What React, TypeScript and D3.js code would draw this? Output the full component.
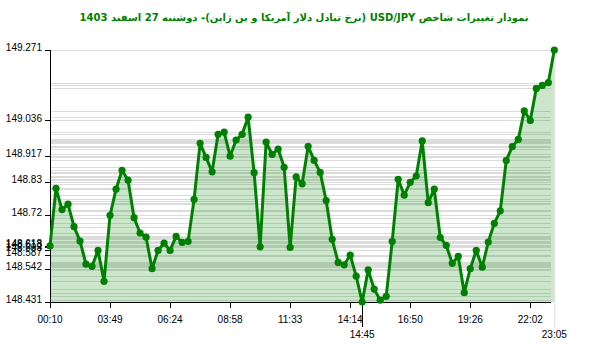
import React from "react";
import * as d3 from "d3";

const values: number[] = [
  148.618, 148.81, 148.739, 148.757, 148.682, 148.634, 148.557, 148.55, 148.603, 148.5,
  148.72, 148.807, 148.87, 148.837, 148.712, 148.661, 148.647, 148.542, 148.603, 148.627,
  148.603, 148.65, 148.63, 148.633, 148.773, 148.96, 148.913, 148.865, 148.99, 148.997,
  148.917, 148.971, 148.99, 149.047, 148.862, 148.615, 148.964, 148.923, 148.941, 148.88,
  148.613, 148.848, 148.825, 148.95, 148.903, 148.863, 148.769, 148.64, 148.563, 148.555,
  148.587, 148.517, 148.431, 148.538, 148.474, 148.437, 148.45, 148.633, 148.84, 148.787,
  148.83, 148.851, 148.968, 148.762, 148.807, 148.646, 148.62, 148.56, 148.583, 148.462,
  148.542, 148.603, 148.547, 148.631, 148.693, 148.735, 148.903, 148.949, 148.973, 149.068,
  149.036, 149.143, 149.153, 149.162, 149.271,
];

const tickIndices: number[] = [0, 10, 20, 30, 40, 50, 60, 70, 80];
const tickLabels: string[] = ["00:10", "03:49", "06:24", "08:58", "11:33", "14:14", "16:50", "19:26", "22:02"];
const extraTickIndices: number[] = [52, 84];
const extraTickLabels: string[] = ["14:45", "23:05"];

const title = "نمودار تغییرات شاخص USD/JPY (نرخ تبادل دلار آمریکا و ین ژاپن)-  دوشنبه  27 اسفند 1403";

const fmt = (v: number) => String(parseFloat(v.toFixed(3)));

export default function App() {
  const W = 600, H = 352;
  const left = 50, right = 554.3, top = 50, bottom = 302, axisEnd = 551;
  const minV = d3.min(values)!;
  const maxV = d3.max(values)!;
  const x = d3.scaleLinear().domain([0, values.length - 1]).range([left, right]);
  const y = d3.scaleLinear().domain([minV, maxV]).range([bottom, top]);

  const line = d3.line<number>().x((_, i) => x(i)).y((d) => y(d));
  const area = d3.area<number>().x((_, i) => x(i)).y0(bottom).y1((d) => y(d));

  const yTickVals = [...tickIndices.map((i) => values[i]), minV, maxV];
  const font = "'Liberation Sans', Arial, sans-serif";
  const last = values.length - 1;

  return (
    <svg width={W} height={H} style={{ position: "absolute", left: 0, top: 0, background: "#fff" }}>
      <text x={304} y={20.5} textAnchor="middle" direction="rtl" fill="#008000"
        fontFamily="'DejaVu Sans', sans-serif" fontWeight="bold" fontSize={10}>
        {title}
      </text>
      {values.map((v, i) => (
        <line key={"g" + i} x1={left} x2={axisEnd} y1={Math.round(y(v)) + 0.5} y2={Math.round(y(v)) + 0.5}
          stroke="#dcdcdc" strokeWidth={1} />
      ))}
      <path d={area(values) || ""} fill="rgba(0,128,0,0.2)" />
      <line x1={x(last) + 0.5} x2={x(last) + 0.5} y1={y(values[last])} y2={328} stroke="#dddddd" />
      <line x1={left} x2={axisEnd} y1={bottom + 0.5} y2={bottom + 0.5} stroke="#000" />
      <line x1={left + 0.5} x2={left + 0.5} y1={top} y2={bottom} stroke="#000" />
      {yTickVals.map((v, i) => (
        <g key={"y" + i}>
          <line x1={45} x2={left} y1={Math.round(y(v)) + 0.5} y2={Math.round(y(v)) + 0.5} stroke="#000" />
          <text x={42} y={y(v) + 1} textAnchor="end" fontFamily={font} fontSize={10} fill="#000">
            {fmt(v)}
          </text>
        </g>
      ))}
      {tickIndices.map((idx, i) => (
        <g key={"x" + i}>
          <line x1={Math.round(x(idx)) + 0.5} x2={Math.round(x(idx)) + 0.5} y1={bottom} y2={308} stroke="#000" />
          <text x={x(idx)} y={322.5} textAnchor="middle" fontFamily={font} fontSize={10} fill="#000">
            {tickLabels[i]}
          </text>
        </g>
      ))}
      {extraTickIndices.map((idx, i) => (
        <g key={"xe" + i}>
          {i === 0 && (
            <line x1={Math.round(x(idx)) + 0.5} x2={Math.round(x(idx)) + 0.5} y1={bottom} y2={327} stroke="#000" />
          )}
          <text x={x(idx)} y={337.5} textAnchor="middle" fontFamily={font} fontSize={10} fill="#000">
            {extraTickLabels[i]}
          </text>
        </g>
      ))}
      <path d={line(values) || ""} fill="none" stroke="#008000" strokeWidth={3} strokeLinejoin="round" />
      {values.map((v, i) => (
        <circle key={"c" + i} cx={x(i)} cy={y(v)} r={3.6} fill="#008000" />
      ))}
    </svg>
  );
}
